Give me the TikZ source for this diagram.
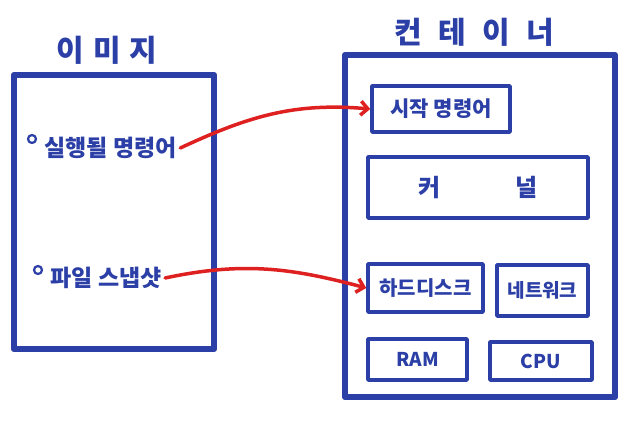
\documentclass[tikz,border=0pt]{standalone}
\usepackage{fontspec}
\newfontfamily\kr{Noto Sans CJK KR}
\usetikzlibrary{arrows.meta}
\definecolor{pen}{RGB}{43,63,166}
\definecolor{redpen}{RGB}{222,32,32}

\begin{document}
\begin{tikzpicture}[x=1pt,y=1pt,>={Straight Barb[length=7pt,width=14pt]},line join=round,
                    box/.style={rectangle,draw=pen,line width=3.5pt,inner sep=0pt,
                                text=pen,font=\kr\bfseries\fontsize{20}{20}\selectfont},
                    big box/.style={rectangle,draw=pen,line width=6.5pt},
                    title/.style={text=pen,font=\kr\bfseries\fontsize{30}{30}\selectfont},
                    item/.style={text=pen,anchor=west,font=\kr\bfseries\fontsize{23}{23}\selectfont},
                    dot/.style={circle,draw=pen,line width=2.2pt,inner sep=0pt,minimum size=8pt},
                    link/.style={->,draw=redpen,line width=3.5pt,line cap=round}]
  \useasboundingbox (0,0) rectangle (629,424);
  % image side
  \node[title,font=\kr\bfseries\fontsize{30}{30}\selectfont\addfontfeature{LetterSpace=30}] (imgtitle) at (107,374) {이미지};
  \node[big box,minimum width=200pt,minimum height=274pt] (img) at (114,212) {};
  \node[dot] (dot1) at (32,285) {};
  \node[item] (cmd) at (41,276) {실행될 명령어};
  \node[dot] (dot2) at (38,154) {};
  \node[item] (snap) at (47,146) {파일 스냅샷};
  % container side
  \node[title,font=\kr\bfseries\fontsize{30}{30}\selectfont\addfontfeature{LetterSpace=55}] (conttitle) at (474,392) {컨테이너};
  \node[big box,minimum width=270pt,minimum height=342pt] (cont) at (480,198) {};
  \node[box,minimum width=138pt,minimum height=46pt,font=\kr\bfseries\fontsize{21}{21}\selectfont] (start) at (441,315) {시작 명령어};
  \node[box,minimum width=220pt,minimum height=61pt,font=\kr\bfseries\fontsize{24}{24}\selectfont] (kernel) at (478,236.5) {커\hspace{3.1em}널\hspace{1.3em}};
  \node[box,minimum width=115pt,minimum height=48pt] (hdd) at (425.5,136) {하드디스크};
  \node[box,minimum width=91pt,minimum height=51pt,font=\kr\bfseries\fontsize{19}{19}\selectfont] (net) at (542.5,133.5) {네트워크};
  \node[box,minimum width=99pt,minimum height=41pt,font=\kr\bfseries\fontsize{19}{19}\selectfont] (ram) at (417.5,64.5) {RAM};
  \node[box,minimum width=102pt,minimum height=38pt,font=\kr\bfseries\fontsize{19}{19}\selectfont] (cpu) at (541,63) {CPU};
  % links
  \draw[link] (cmd.east) to[out=25,in=175] (start.west);
  \draw[link] (snap.east) to[out=12,in=165] (hdd.west);
\end{tikzpicture}
\end{document}
